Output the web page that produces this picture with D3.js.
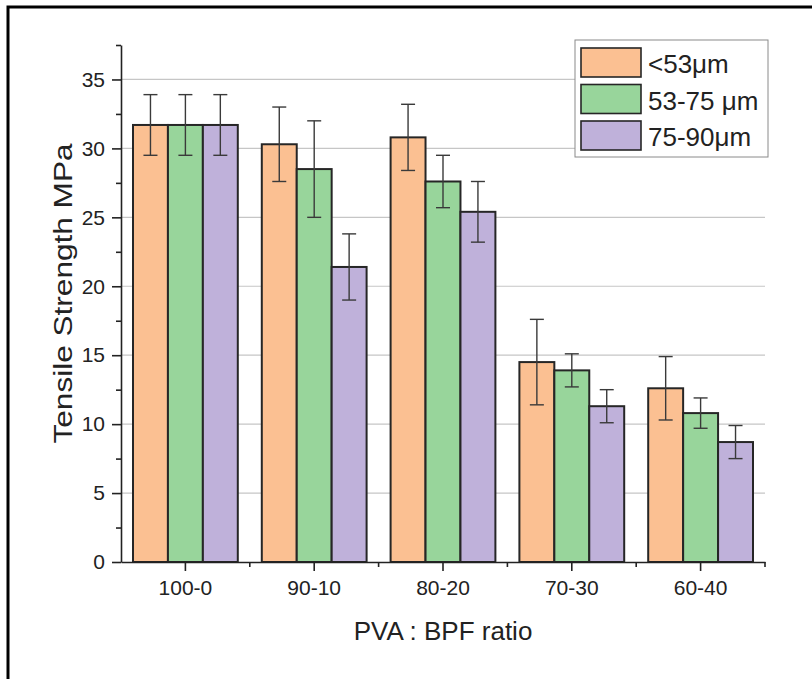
<!DOCTYPE html>
<html>
<head>
<meta charset="utf-8">
<script src="https://cdn.jsdelivr.net/npm/d3@7"></script>
<style>
  body { margin: 0; background: white; }
  svg { font-family: "Liberation Sans", Arial, sans-serif; }
</style>
</head>
<body>
<svg id="graph"></svg>
<script>
// categories and series
var ratios = ["100-0", "90-10", "80-20", "70-30", "60-40"];
var sizes = ["<53\u03bcm", "53-75 \u03bcm", "75-90\u03bcm"];
var sizeColors = ["#fbc092", "#98d59b", "#bfb1da"];

// mean tensile strength (MPa) per ratio, one list per particle size
var fine   = [31.7, 30.3, 30.8, 14.5, 12.6];
var medium = [31.7, 28.5, 27.6, 13.9, 10.8];
var coarse = [31.7, 21.4, 25.4, 11.3, 8.7];

// error bar half widths
var fineErr   = [2.2, 2.7, 2.4, 3.1, 2.3];
var mediumErr = [2.2, 3.5, 1.9, 1.2, 1.1];
var coarseErr = [2.2, 2.4, 2.2, 1.2, 1.2];

var yTicks = [0, 5, 10, 15, 20, 25, 30, 35];
var yMinorTicks = [2.5, 7.5, 12.5, 17.5, 22.5, 27.5, 32.5, 37.5];

var drawChart = function(svgSelector)
{
  var screen = { width: 812, height: 679 };
  var margins = { top: 45, bottom: 117, left: 121, right: 47 };

  var graphWidth  = screen.width - margins.left - margins.right;
  var graphHeight = screen.height - margins.top - margins.bottom;

  var svg = d3.select(svgSelector)
              .attr("width", screen.width)
              .attr("height", screen.height);

  // outer frame
  svg.append("rect")
     .attr("x", 8)
     .attr("y", 7)
     .attr("width", 830)
     .attr("height", 700)
     .attr("fill", "white")
     .style("stroke", "black")
     .style("stroke-width", 3);

  var xScale = d3.scaleBand()
                 .domain(ratios)
                 .range([margins.left, margins.left + graphWidth]);

  var innerScale = d3.scaleBand()
                     .domain(d3.range(sizes.length))
                     .range([12, xScale.bandwidth() - 12]);

  var yScale = d3.scaleLinear()
                 .domain([0, 37.5])
                 .range([margins.top + graphHeight, margins.top]);

  // gridlines
  svg.append("g")
     .classed("grid", true)
     .selectAll("line")
     .data(yTicks.slice(1))
     .enter()
     .append("line")
     .attr("x1", margins.left)
     .attr("x2", margins.left + graphWidth)
     .attr("y1", function(d){ return yScale(d); })
     .attr("y2", function(d){ return yScale(d); })
     .style("stroke", "#c6c6c6")
     .style("stroke-width", 1.2);

  var series = [
    { name: sizes[0], values: fine,   errs: fineErr },
    { name: sizes[1], values: medium, errs: mediumErr },
    { name: sizes[2], values: coarse, errs: coarseErr }
  ];

  var rows = [];
  series.forEach(function(s, si){
    s.values.forEach(function(v, i){
      rows.push({ ratio: ratios[i], series: si, value: v, err: s.errs[i] });
    });
  });

  var bars = svg.append("g").classed("bars", true);

  bars.selectAll("rect")
      .data(rows)
      .enter()
      .append("rect")
      .attr("x", function(d){ return xScale(d.ratio) + innerScale(d.series); })
      .attr("y", function(d){ return yScale(d.value); })
      .attr("width", innerScale.bandwidth())
      .attr("height", function(d){ return yScale(0) - yScale(d.value); })
      .attr("fill", function(d){ return sizeColors[d.series]; })
      .style("stroke", "#262626")
      .style("stroke-width", 2);

  // error bars
  var errs = svg.append("g").classed("errors", true)
                .selectAll("g")
                .data(rows)
                .enter()
                .append("g")
                .style("stroke", "#3a3a3a")
                .style("stroke-width", 1.4);

  var cx = function(d){ return xScale(d.ratio) + innerScale(d.series) + innerScale.bandwidth() / 2; };
  var capHalf = 7;

  errs.append("line")
      .attr("x1", cx).attr("x2", cx)
      .attr("y1", function(d){ return yScale(d.value + d.err); })
      .attr("y2", function(d){ return yScale(d.value - d.err); });
  errs.append("line")
      .attr("x1", function(d){ return cx(d) - capHalf; })
      .attr("x2", function(d){ return cx(d) + capHalf; })
      .attr("y1", function(d){ return yScale(d.value + d.err); })
      .attr("y2", function(d){ return yScale(d.value + d.err); });
  errs.append("line")
      .attr("x1", function(d){ return cx(d) - capHalf; })
      .attr("x2", function(d){ return cx(d) + capHalf; })
      .attr("y1", function(d){ return yScale(d.value - d.err); })
      .attr("y2", function(d){ return yScale(d.value - d.err); });

  // y axis, major and minor ticks
  svg.append("g")
     .classed("axis", true)
     .attr("transform", "translate(" + margins.left + ",0)")
     .call(d3.axisLeft(yScale).tickValues(yTicks).tickSize(9).tickPadding(7).tickSizeOuter(0));
  svg.append("g")
     .attr("transform", "translate(" + margins.left + ",0)")
     .call(d3.axisLeft(yScale).tickValues(yMinorTicks).tickSize(5).tickFormat("").tickSizeOuter(0))
     .select(".domain").remove();

  // x axis with minor ticks at group edges
  svg.append("g")
     .classed("axis", true)
     .attr("transform", "translate(0," + yScale(0) + ")")
     .call(d3.axisBottom(xScale).tickSize(9).tickPadding(9).tickSizeOuter(0));
  var edges = ratios.map(function(r){ return xScale(r); }).concat([margins.left + graphWidth]);
  svg.append("g")
     .selectAll("line")
     .data(edges.slice(1))
     .enter()
     .append("line")
     .attr("x1", function(d){ return d; })
     .attr("x2", function(d){ return d; })
     .attr("y1", yScale(0))
     .attr("y2", yScale(0) + 5)
     .style("stroke", "#222")
     .style("stroke-width", 1.6);

  svg.selectAll(".domain, .tick line")
     .style("stroke", "#222")
     .style("stroke-width", 1.6);
  svg.selectAll(".tick text")
     .attr("fill", "#222")
     .attr("font-size", 21);

  // axis titles
  svg.append("text")
     .attr("x", margins.left + graphWidth / 2)
     .attr("y", 640)
     .attr("text-anchor", "middle")
     .attr("font-size", 26)
     .attr("fill", "#222")
     .text("PVA : BPF ratio");

  svg.append("text")
     .attr("transform", "translate(72," + (margins.top + graphHeight / 2 - 10) + ") rotate(-90)")
     .attr("text-anchor", "middle")
     .attr("font-size", 26)
     .attr("textLength", 300)
     .attr("lengthAdjust", "spacingAndGlyphs")
     .attr("fill", "#222")
     .text("Tensile Strength MPa");

  // legend
  var legend = svg.append("g")
                  .attr("transform", "translate(575,40)")
                  .classed("legend", true);
  legend.append("rect")
        .attr("width", 193)
        .attr("height", 117)
        .attr("fill", "white")
        .style("stroke", "#8a8a8a")
        .style("stroke-width", 1);

  var legendLines = legend.selectAll("g.legend-line")
                          .data(sizes)
                          .enter()
                          .append("g")
                          .classed("legend-line", true)
                          .attr("transform", function(d, i){ return "translate(0," + (8 + i * 36.5) + ")"; });
  legendLines.append("rect")
             .attr("x", 6)
             .attr("width", 60)
             .attr("height", 29)
             .attr("fill", function(d, i){ return sizeColors[i]; })
             .style("stroke", "#262626")
             .style("stroke-width", 1.6);
  legendLines.append("text")
             .attr("x", 73)
             .attr("y", 25)
             .attr("font-size", 26)
             .attr("fill", "#222")
             .text(function(d){ return d; });
}

drawChart("#graph");
</script>
</body>
</html>
